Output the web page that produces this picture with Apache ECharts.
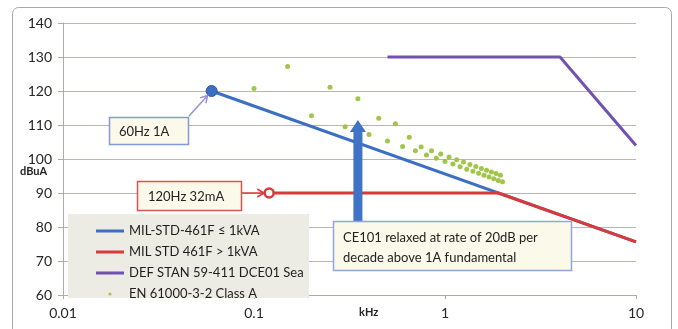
<!DOCTYPE html>
<html>
<head>
<meta charset="utf-8">
<script src="https://cdn.jsdelivr.net/npm/echarts@6/dist/echarts.min.js"></script>
<style>
  html, body { margin: 0; padding: 0; background: #ffffff; }
  #chart { width: 678px; height: 329px; }
</style>
</head>
<body>
<div id="chart"></div>
<script>
// Conducted emission limits, frequency in kHz, level in dBuA
const FONT = 'Lato, "Open Sans", sans-serif';

const seriesNames = [
  'MIL-STD-461F \u2264 1kVA',
  'MIL STD 461F > 1kVA',
  'DEF STAN 59-411 DCE01 Sea',
  'EN 61000-3-2 Class A'
];

// MIL-STD-461F CE101, loads up to 1 kVA
const milLowFreq = [0.06, 10];
const milLowLevel = [120, 75.6];

// MIL-STD-461F CE101, loads above 1 kVA
const milHighFreq = [0.12, 1.9, 10];
const milHighLevel = [90, 90, 75.6];

// DEF STAN 59-411 DCE01, sea service
const defStanFreq = [0.5, 4, 10];
const defStanLevel = [130, 130, 104];

// EN 61000-3-2 Class A harmonic limits (2nd to 40th of 50 Hz)
const enFreq = [0.10, 0.15, 0.20, 0.25, 0.30, 0.35, 0.40, 0.45, 0.50, 0.55,
                0.60, 0.65, 0.70, 0.75, 0.80, 0.85, 0.90, 0.95, 1.00, 1.05,
                1.10, 1.15, 1.20, 1.25, 1.30, 1.35, 1.40, 1.45, 1.50, 1.55,
                1.60, 1.65, 1.70, 1.75, 1.80, 1.85, 1.90, 1.95, 2.00];
const enLevel = [120.7, 127.2, 112.7, 121.1, 109.5, 117.7, 107.2, 112.0, 105.3, 110.4,
                 103.7, 106.4, 102.4, 103.5, 101.2, 102.4, 100.2, 101.5, 99.3, 100.6,
                 98.5, 99.8, 97.7, 99.1, 97.0, 98.4, 96.4, 97.8, 95.8, 97.2,
                 95.2, 96.7, 94.7, 96.2, 94.2, 95.7, 93.7, 95.2, 93.3];

// Axis extents
const xMin = 0.01, xMax = 10;
const yMin = 60, yMax = 140, yStep = 10;

const BLUE = '#3b6fc4';
const RED = '#d8393a';
const PURPLE = '#7152b0';
const GREEN = '#9cc23e';

function pairs(xs, ys) { return xs.map((x, i) => [x, ys[i]]); }

const chart = echarts.init(document.getElementById('chart'), null, { renderer: 'canvas' });

const option = {
  animation: false,
  textStyle: { fontFamily: FONT },
  grid: { left: 63, right: 42, top: 23, bottom: 34, containLabel: false },
  xAxis: {
    type: 'log', logBase: 10, min: xMin, max: xMax,
    axisLine: { show: true, lineStyle: { color: '#b0aaa4', width: 1 } },
    axisTick: { show: true, length: 4, lineStyle: { color: '#b0aaa4' } },
    minorTick: { show: false },
    splitLine: { show: false },
    axisLabel: {
      color: '#262626', fontSize: 14, fontFamily: FONT, margin: 11,
      formatter: v => String(+v.toPrecision(3))
    }
  },
  yAxis: {
    type: 'value', min: yMin, max: yMax, interval: yStep,
    axisLine: { show: true, lineStyle: { color: '#b0aaa4', width: 1 } },
    axisTick: { show: true, length: 5, lineStyle: { color: '#b0aaa4' } },
    splitLine: { show: true, lineStyle: { color: '#bdb5ad', width: 1.2 } },
    axisLabel: { color: '#262626', fontSize: 14, fontFamily: FONT, margin: 11 }
  },
  legend: {
    orient: 'vertical', left: 91, top: 219,
    itemWidth: 28, itemHeight: 3, itemGap: 7,
    textStyle: { fontSize: 13, color: '#1e1e1e', fontFamily: FONT, lineHeight: 14 },
    z: 10,
    data: [
      { name: seriesNames[0], icon: 'rect', itemStyle: { color: BLUE, borderWidth: 0 } },
      { name: seriesNames[1], icon: 'rect', itemStyle: { color: RED, borderWidth: 0 } },
      { name: seriesNames[2], icon: 'rect', itemStyle: { color: PURPLE, borderWidth: 0 } },
      { name: seriesNames[3], icon: 'circle', itemStyle: { color: GREEN, borderWidth: 0 } }
    ]
  },
  series: [
    {
      name: seriesNames[0], type: 'line', z: 3,
      lineStyle: { color: BLUE, width: 3 },
      itemStyle: { color: BLUE, borderColor: '#2c5aa6', borderWidth: 1 },
      symbol: 'circle', showAllSymbol: true,
      symbolSize: (v, p) => (p.dataIndex === 0 ? 11 : 0),
      data: pairs(milLowFreq, milLowLevel)
    },
    {
      name: seriesNames[1], type: 'line', z: 4,
      lineStyle: { color: RED, width: 3 },
      itemStyle: { color: '#ffffff', borderColor: RED, borderWidth: 2.5 },
      symbol: 'circle', showAllSymbol: true,
      symbolSize: (v, p) => (p.dataIndex === 0 ? 9 : 0),
      data: pairs(milHighFreq, milHighLevel)
    },
    {
      name: seriesNames[2], type: 'line', z: 3,
      lineStyle: { color: PURPLE, width: 3 },
      itemStyle: { color: PURPLE },
      symbol: 'none',
      data: pairs(defStanFreq, defStanLevel)
    },
    {
      name: seriesNames[3], type: 'scatter', z: 5,
      symbol: 'circle', symbolSize: 5,
      itemStyle: { color: GREEN, opacity: 0.95 },
      data: pairs(enFreq, enLevel)
    }
  ]
};

chart.setOption(option);

// Annotations anchored to the plotted points
const px = (x, y) => chart.convertToPixel({ gridIndex: 0 }, [x, y]);

function arrowLine(from, to, color, width, headLen, back) {
  const dx = to[0] - from[0], dy = to[1] - from[1];
  const len = Math.hypot(dx, dy);
  const ux = dx / len, uy = dy / len;
  const tip = [to[0] - ux * back, to[1] - uy * back];
  const a = Math.PI / 6;
  const h1 = [tip[0] - headLen * (ux * Math.cos(a) - uy * Math.sin(a)),
              tip[1] - headLen * (uy * Math.cos(a) + ux * Math.sin(a))];
  const h2 = [tip[0] - headLen * (ux * Math.cos(a) + uy * Math.sin(a)),
              tip[1] - headLen * (uy * Math.cos(a) - ux * Math.sin(a))];
  return [
    { type: 'polyline', z: 20, shape: { points: [from, tip] }, style: { stroke: color, lineWidth: width, fill: null } },
    { type: 'polyline', z: 20, shape: { points: [h1, tip, h2] }, style: { stroke: color, lineWidth: width, fill: null } }
  ];
}

function noteBox(x, y, w, h, border, lines, textX, textY, lh) {
  return [
    { type: 'rect', z: 21, shape: { x: x + 0.5, y: y + 0.5, width: w, height: h },
      style: { fill: '#fbf9ea', stroke: border, lineWidth: 1.5 } },
    { type: 'text', z: 22, x: textX, y: textY,
      style: { text: lines.join('\n'), fill: '#222', font: '13px ' + FONT, lineHeight: lh, verticalAlign: 'top' } }
  ];
}

const p60 = px(milLowFreq[0], milLowLevel[0]);
const p120 = px(milHighFreq[0], milHighLevel[0]);
const bigX = px(0.35, 100)[0];

const graphics = [
  // outer chart frame
  { type: 'rect', z: 0, silent: true,
    shape: { x: 12.5, y: 7.5, width: 659, height: 345, r: 6 },
    style: { fill: null, stroke: '#a8a8a8', lineWidth: 1 } },
  // legend panel
  { type: 'rect', z: 5,
    shape: { x: 68, y: 214, width: 241, height: 84 },
    style: { fill: '#ecebe4' } },
  // axis titles
  { type: 'text', z: 6, x: 20, y: 166,
    style: { text: 'dBuA', font: 'bold 11px ' + FONT, fill: '#222' } },
  { type: 'text', z: 6, x: 359, y: 307,
    style: { text: 'kHz', font: 'bold 11px ' + FONT, fill: '#222' } },
  // thick arrow over the relaxed region
  { type: 'polygon', z: 19,
    shape: { points: [
      [bigX - 4.5, 221], [bigX - 4.5, 132], [bigX - 8, 132], [bigX, 120],
      [bigX + 8, 132], [bigX + 4.5, 132], [bigX + 4.5, 221]
    ] },
    style: { fill: '#3f73c6' } }
];

graphics.push(...noteBox(109, 117, 79, 27, '#7f9bd6', ['60Hz 1A'], 119, 124, 15));
graphics.push(...arrowLine([189, 116], p60, '#9a8fd2', 1.5, 8, 6));
graphics.push(...noteBox(137, 181, 104, 29, '#d9534f', ['120Hz 32mA'], 148, 189, 15));
graphics.push(...arrowLine([241, p120[1]], p120, RED, 1.5, 8, 5));
graphics.push(...noteBox(333, 221, 238, 49, '#8fa8da',
  ['CE101 relaxed at rate of 20dB per', 'decade above 1A fundamental'], 343, 228, 20));

chart.setOption({ graphic: { elements: graphics } });
</script>
</body>
</html>
